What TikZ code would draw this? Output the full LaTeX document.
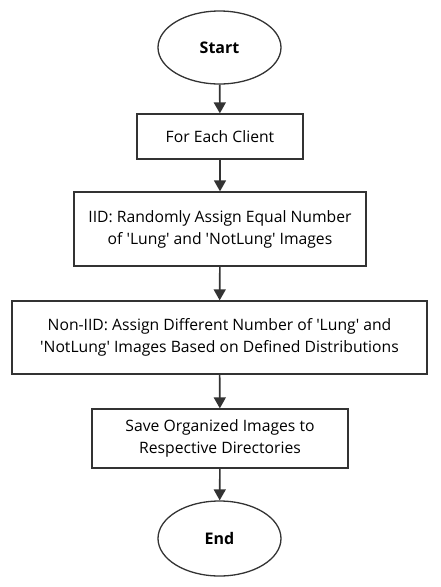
\documentclass[tikz,border=0pt]{standalone}
\usepackage{fontspec}
\setmainfont{Open Sans}
\usetikzlibrary{shapes.geometric,arrows.meta}

\newcommand{\sq}{\textquotesingle}

\begin{document}
\begin{tikzpicture}[x=1pt,y=-1pt,
		flowline/.style={draw=black!80, line width=1.6pt},
		terminal/.style={ellipse, flowline, line width=1.3pt, inner sep=0pt, font=\fontsize{16}{20}\selectfont\bfseries},
		procbox/.style={rectangle, flowline, line width=1.3pt, inner sep=0pt, align=center, font=\fontsize{15.7}{22}\selectfont},
		flowarrow/.style={flowline, -{Triangle[length=11pt,width=12pt]}}]
		
		\useasboundingbox (0,0) rectangle (440,587);
		
		\node[terminal, minimum width=123pt, minimum height=73pt]
		(start) at (219.5,47.5) {Start};
		
		\node[procbox, minimum width=166pt, minimum height=45pt]
		(client) at (220,136.5) {For Each Client};
		
		\node[procbox, minimum width=292pt, minimum height=74pt]
		(iid) at (220,229) {IID: Randomly Assign Equal Number\\of \sq Lung\sq{} and \sq NotLung\sq{} Images};
		
		\node[procbox, minimum width=415pt, minimum height=73pt]
		(noniid) at (219.5,337.5) {Non-IID: Assign Different Number of \sq Lung\sq{} and\\\sq NotLung\sq{} Images Based on Defined Distributions};
		
		\node[procbox, minimum width=256pt, minimum height=59pt]
		(save) at (220,438.5) {Save Organized Images to\\Respective Directories};
		
		\node[terminal, minimum width=123pt, minimum height=75pt]
		(end) at (219.5,538.5) {End};
		
		% Edges
		
		\draw[flowarrow] (start) -- (client);
		\draw[flowarrow] (client) -- (iid);
		\draw[flowarrow] (iid) -- (noniid);
		\draw[flowarrow] (noniid) -- (save);
		\draw[flowarrow] (save) -- (end);
		
	\end{tikzpicture}
\end{document}
